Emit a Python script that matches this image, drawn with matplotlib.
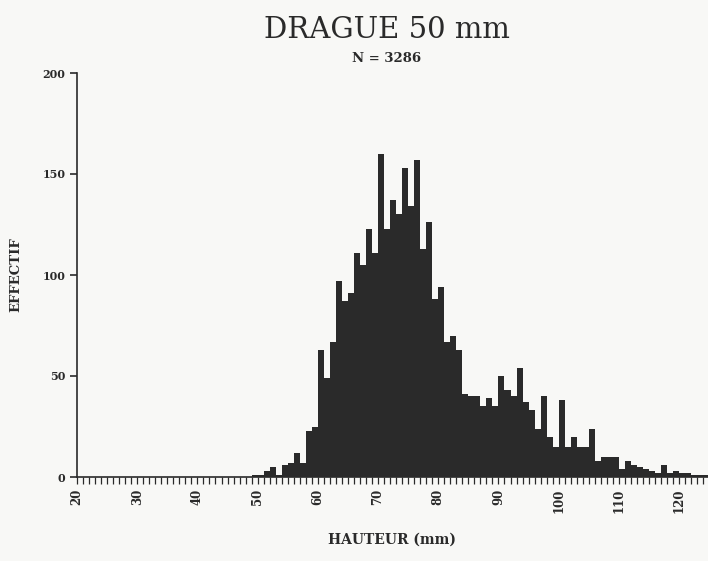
import numpy as np
import matplotlib
matplotlib.use('Agg')
import matplotlib.pyplot as plt
from matplotlib.ticker import MultipleLocator

# classes de hauteur (mm), une classe par mm, de 20 a 124
hauteur = np.arange(20, 125)

effectif = ([0] * 29 +                                   # 20 - 48
            [1, 1, 3, 5, 1, 6, 7, 12, 7] +               # 49 - 57
            [23, 25, 63, 49, 67, 97, 87, 91, 111, 105, 123, 111] +    # 58 - 69
            [160, 123, 137, 130, 153, 134, 157, 113, 126, 88, 94, 67, 70, 63] +  # 70 - 83
            [41, 40, 40, 35, 39, 35, 50, 43, 40, 54, 37, 33, 24, 40, 20, 15,
             38, 15, 20, 15, 15, 24] +                   # 84 - 105
            [8, 10, 10, 10, 4, 8, 6, 5, 4, 3, 2, 6, 2, 3, 2, 2, 1, 1, 1])  # 106 - 124

titre = 'DRAGUE 50 mm'
sous_titre = 'N = 3286'
xticks = np.arange(20, 130, 10)
yticks = [0, 50, 100, 150, 200]

bg = '#f8f8f6'
ink = '#2a2a2a'
serif = 'DejaVu Serif'

fig = plt.figure(figsize=(7.08, 5.61), dpi=100, facecolor=bg)
ax = fig.add_axes([77 / 708, 1 - 477 / 561, 631 / 708, 404 / 561])
ax.set_facecolor(bg)

ax.bar(hauteur, effectif, width=1.0, align='edge', color=ink, linewidth=0)

ax.set_xlim(20, 124.8)
ax.set_ylim(0, 200)

for s in ['top', 'right']:
    ax.spines[s].set_visible(False)
for s in ['left', 'bottom']:
    ax.spines[s].set_color(ink)
    ax.spines[s].set_linewidth(1.2)

ax.set_xticks(xticks)
ax.xaxis.set_minor_locator(MultipleLocator(1))
ax.set_yticks(yticks)
ax.tick_params(axis='x', which='both', direction='out', length=5, width=0.9, colors=ink)
ax.tick_params(axis='y', direction='out', length=5, width=1.2, colors=ink)

for lab in ax.get_xticklabels():
    lab.set_rotation(90)
    lab.set_fontfamily(serif)
    lab.set_fontweight('bold')
    lab.set_fontsize(8.5)
for lab in ax.get_yticklabels():
    lab.set_fontfamily(serif)
    lab.set_fontweight('bold')
    lab.set_fontsize(8)

ax.set_xlabel('HAUTEUR (mm)', fontfamily=serif, fontweight='bold', fontsize=10,
              color=ink, labelpad=14)
ax.set_ylabel('EFFECTIF', fontfamily=serif, fontweight='bold', fontsize=9.5,
              color=ink, labelpad=14)

fig.text(387 / 708, 1 - 30 / 561, titre, ha='center', va='center',
         fontfamily=serif, fontsize=21, color=ink)
fig.text(387 / 708, 1 - 58 / 561, sous_titre, ha='center', va='center',
         fontfamily=serif, fontweight='bold', fontsize=9.5, color=ink)

plt.savefig('out.png', dpi=100, facecolor=bg)
